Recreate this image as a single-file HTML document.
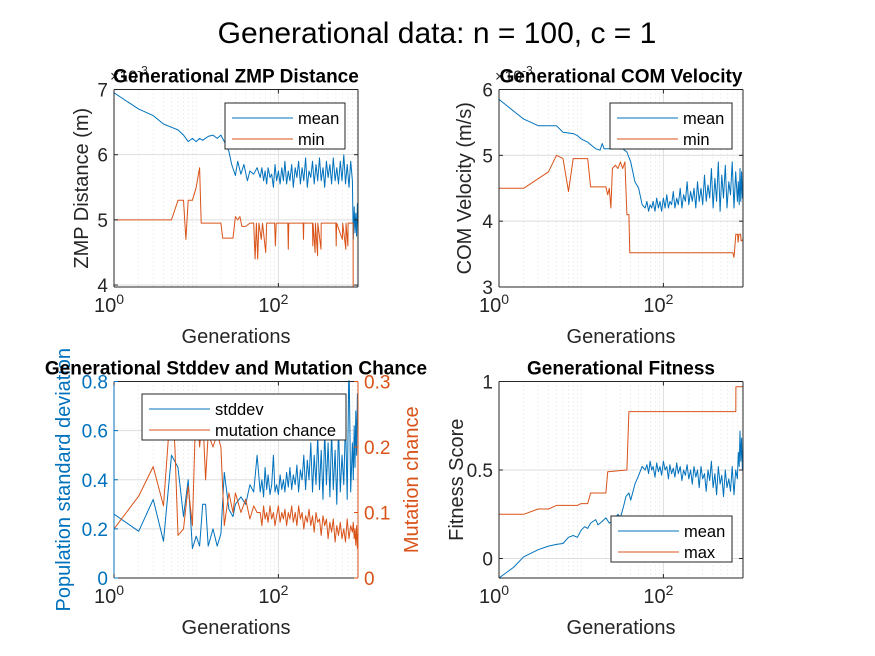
<!DOCTYPE html>
<html><head><meta charset="utf-8">
<style>
html,body{margin:0;padding:0;background:#fff;}
svg{display:block;font-family:"Liberation Sans",Arial,sans-serif;}
</style></head>
<body>
<svg id="fig" width="875" height="656" viewBox="0 0 875 656" xmlns="http://www.w3.org/2000/svg">
<rect width="875" height="656" fill="#fff"/>
<text x="437" y="43" text-anchor="middle" font-size="30" fill="#000">Generational data: n = 100, c = 1</text>
</svg>
<script>
// ---- shared data ----
const XMAX = 930;
const noiseGens = [60,63,66,69,72,75,79,83,87,91,95,100,105,110,115,120,126,132,138,145,152,160,168,176,185,194,204,214,225,236,248,260,273,287,301,316,332,349,366,384,403,423,444,466,489,513,539,566,594,624,655,688,722,758,796,815,835,855,875,895,915,930];
const xTickValues = [1,100];
const xTickLabels = ['0','2'];

// Plot 1: ZMP distance (x1e-3)
const zmpMeanGens = [1,2,3,4,5,6,7,8,9,10,11,12,14,16,18,20,22,25,27,30,32,35,38,42,45,50,55];
const zmpMeanVals = [6.95,6.7,6.6,6.47,6.42,6.38,6.3,6.2,6.25,6.2,6.25,6.22,6.28,6.3,6.25,6.3,6.2,6.05,5.85,5.68,5.9,5.7,5.85,5.6,5.75,5.7,5.8];
const zmpMeanNoise = [5.65,5.8,5.6,5.75,5.55,5.8,5.65,5.7,5.5,5.85,
5.6,5.75,5.55,5.8,5.6,5.9,5.55,5.75,5.6,5.85,
5.5,5.8,5.65,5.9,5.55,5.8,5.6,5.95,5.5,5.75,
5.65,5.9,5.55,5.85,5.6,5.95,5.6,5.8,5.5,5.9,
5.65,5.85,5.55,5.95,5.6,5.8,5.55,5.9,5.6,6.0,
5.55,5.85,5.5,5.9,5.6,4.7,5.2,4.8,5.1,4.75,
5.25,4.9];
const zmpMinGens = [1,5,6,7,7.5,8,9,10,11,11.5,20,21,28,30,32,34,36,40,45,50,52,54,56,58,62,64,70,72,90,92,94,130,132,134,200,202,204,260,262,264,280,282,300,302,330,332,500,505,510,600,605,660,665,700,705,810,812,930];
const zmpMinVals = [5.0,5.0,5.3,5.3,4.7,5.3,5.3,5.5,5.8,4.95,4.95,4.72,4.72,5.05,5.0,5.05,4.9,4.9,4.95,4.95,4.4,4.95,4.4,4.95,4.7,4.95,4.5,4.95,4.95,4.6,4.95,4.95,4.55,4.95,4.95,4.7,4.95,4.95,4.6,4.95,4.5,4.95,4.45,4.95,4.55,4.95,4.95,4.6,4.95,4.7,4.95,4.55,4.95,4.6,4.95,4.95,3.97,3.97];

// Plot 2: COM velocity (x1e-3)
const comMeanGens = [1,2,3,5,6,8,9,10,12,15,17,18,19,22,25,28,32,36,40,45,50,55];
const comMeanVals = [5.85,5.55,5.45,5.45,5.35,5.33,5.3,5.25,5.2,5.1,5.08,5.18,5.1,5.1,5.15,5.2,5.1,5.05,4.9,4.6,4.5,4.25];
const comMeanNoise = [4.2,4.3,4.15,4.25,4.2,4.3,4.15,4.35,4.2,4.3,
4.15,4.35,4.2,4.4,4.2,4.3,4.25,4.45,4.2,4.35,
4.25,4.5,4.2,4.4,4.3,4.6,4.25,4.45,4.3,4.5,
4.2,4.6,4.3,4.5,4.25,4.7,4.3,4.55,4.35,4.8,
4.2,4.65,4.3,4.9,4.15,4.7,4.35,4.85,4.2,4.6,
4.4,4.9,4.2,4.75,4.3,4.6,4.25,4.8,4.3,4.75,
4.35,4.5];
const comMinGens = [1,2,4,5,6,7,8,12,13,20,21,22,23,24,26,28,30,32,34,36,38,39,700,720,730,760,800,810,830,870,880,930];
const comMinVals = [4.5,4.5,4.75,5.0,4.95,4.45,4.95,4.95,4.52,4.52,4.4,4.5,4.2,4.8,4.85,4.8,4.9,4.8,4.9,4.1,4.1,3.52,3.52,3.45,3.52,3.8,3.8,3.68,3.8,3.8,3.7,3.72];

// Plot 3: stddev and mutation chance
const sdGens = [1,2,3,4,5,6,7,8,9,10,11,12,13,14,16,18,20,22,25,28,30,35,40,45,50,55];
const sdVals = [0.26,0.19,0.32,0.15,0.5,0.45,0.25,0.4,0.12,0.17,0.13,0.3,0.3,0.13,0.2,0.13,0.18,0.43,0.28,0.25,0.3,0.33,0.3,0.38,0.35,0.5];
const sdNoise = [0.35,0.4,0.33,0.45,0.36,0.42,0.34,0.38,0.5,0.35,
0.38,0.34,0.42,0.36,0.4,0.35,0.43,0.37,0.45,0.36,
0.42,0.38,0.46,0.35,0.44,0.4,0.5,0.36,0.48,0.4,
0.55,0.35,0.5,0.38,0.58,0.36,0.52,0.32,0.6,0.38,
0.55,0.33,0.6,0.36,0.52,0.3,0.62,0.35,0.5,0.38,
0.65,0.32,0.9,0.35,0.55,0.4,0.62,0.45,0.68,0.5,
0.75,0.7];
const mutGens = [1,2,3,4,5,5.5,6,7,8,9,10,11,12,13,14,16,18,20,22,25,28,30,35,40,45,50,55];
const mutVals = [0.075,0.125,0.17,0.11,0.28,0.2,0.065,0.075,0.14,0.08,0.28,0.2,0.25,0.15,0.22,0.2,0.22,0.2,0.08,0.13,0.1,0.13,0.1,0.12,0.09,0.11,0.1];
const mutNoise = [0.1,0.08,0.11,0.09,0.1,0.085,0.11,0.09,0.1,0.08,
0.095,0.11,0.085,0.1,0.09,0.105,0.08,0.1,0.09,0.11,
0.085,0.1,0.08,0.11,0.09,0.1,0.075,0.095,0.085,0.105,
0.08,0.095,0.07,0.1,0.085,0.09,0.065,0.095,0.08,0.09,
0.06,0.085,0.07,0.09,0.055,0.08,0.065,0.085,0.06,0.075,
0.055,0.09,0.06,0.08,0.07,0.085,0.06,0.075,0.05,0.08,
0.045,0.07];

// Plot 4: fitness
const fitMeanGens = [1,1.5,2,3,4,5,6,7,8,9,10,11,12,13,15,16,18,20,22,25,28,30,33,35,38,40,45,50,55];
const fitMeanVals = [-0.11,-0.05,0.01,0.05,0.07,0.08,0.085,0.12,0.13,0.12,0.16,0.18,0.17,0.2,0.22,0.19,0.21,0.23,0.2,0.22,0.25,0.23,0.3,0.35,0.37,0.33,0.42,0.47,0.52];
const fitMeanNoise = [0.5,0.53,0.48,0.55,0.5,0.52,0.46,0.54,0.49,0.52,
0.47,0.55,0.5,0.52,0.45,0.53,0.48,0.51,0.46,0.54,
0.48,0.52,0.44,0.5,0.47,0.53,0.45,0.5,0.42,0.52,
0.46,0.5,0.4,0.52,0.45,0.48,0.38,0.5,0.44,0.55,
0.4,0.48,0.36,0.52,0.42,0.47,0.35,0.5,0.4,0.45,
0.38,0.52,0.36,0.5,0.45,0.6,0.52,0.72,0.55,0.68,
0.5,0.62];
const fitMaxGens = [1,2,3,4,5,9,10,12,13,20,21,36,38,760,762,930];
const fitMaxVals = [0.25,0.25,0.28,0.28,0.3,0.3,0.31,0.31,0.37,0.37,0.49,0.5,0.83,0.83,0.97,0.97];

// ---- drawing ----
const NS = 'http://www.w3.org/2000/svg';
const fig = document.getElementById('fig');
const BLUE = '#0072BD', ORANGE = '#D95319', AX = '#262626', GRID = '#dedede';
function mk(tag, attrs, parent){
  const e = document.createElementNS(NS, tag);
  for (const k in attrs) e.setAttribute(k, attrs[k]);
  (parent||fig).appendChild(e);
  return e;
}
function txt(str, attrs, parent){ const t = mk('text', attrs, parent); t.textContent = str; return t; }

function makeAxes(o){
  const g = mk('g', {});
  
  
  const L=o.x, T=o.y, W=o.w, H=o.h;
  const xs = v => L + Math.log10(v)/Math.log10(XMAX)*W;
  const ys = v => T + H - (v - o.ymin)/(o.ymax - o.ymin)*H;
  const ys2 = o.y2 ? (v => T + H - (v - o.y2.min)/(o.y2.max - o.y2.min)*H) : null;
  for (let d=1; d<=100; d*=10){
    for (let m=(d===1?2:1); m<=9; m++){
      const v = m*d; if (v>XMAX || v===100) continue;
      const ln = mk('line', {x1:xs(v),x2:xs(v),y1:T,y2:T+H,stroke:'#d6d6d6','stroke-width':0.7,'stroke-dasharray':'1,3'}, g);
      
      
    }
  }
  const gx = mk('line', {x1:xs(100),x2:xs(100),y1:T,y2:T+H,stroke:GRID,'stroke-width':1}, g);
  
  
  o.yticks.forEach(v=>{
    const ln = mk('line', {x1:L,x2:L+W,y1:ys(v),y2:ys(v),stroke:GRID,'stroke-width':1}, g);
    
    
  });
  const cp = mk('clipPath', {id:o.name+'-clip'}, g);
  mk('rect', {x:L, y:T-1, width:W, height:H+3}, cp);
  o.series.forEach(s=>{
    const f = s.right ? ys2 : ys;
    let d=''; s.g.forEach((gv,i)=>{ d += (i?'L':'M') + xs(gv).toFixed(1) + ',' + f(s.v[i]).toFixed(1); });
    const p = mk('path', {d:d, fill:'none', stroke:s.color, 'stroke-width':1, 'stroke-linejoin':'round','clip-path':'url(#'+o.name+'-clip)'}, g);
    
    
  });
  const lc = o.y2 ? BLUE : AX, rc = o.y2 ? ORANGE : AX;
  mk('line', {x1:L,x2:L+W,y1:T+H,y2:T+H,stroke:AX,'stroke-width':1}, g);
  mk('line', {x1:L,x2:L+W,y1:T,y2:T,stroke:AX,'stroke-width':1}, g);
  mk('line', {x1:L,x2:L,y1:T,y2:T+H,stroke:lc,'stroke-width':1}, g);
  mk('line', {x1:L+W,x2:L+W,y1:T,y2:T+H,stroke:rc,'stroke-width':1}, g);
  xTickValues.forEach((v,i)=>{
    mk('line', {x1:xs(v),x2:xs(v),y1:T+H,y2:T+H-4,stroke:AX}, g);
    mk('line', {x1:xs(v),x2:xs(v),y1:T,y2:T+4,stroke:AX}, g);
    const t = txt('10', {x:xs(v)-5, y:T+H+25, 'text-anchor':'middle','font-size':20,fill:AX}, g);
    
    
    const ts = document.createElementNS(NS,'tspan'); ts.setAttribute('dy','-8'); ts.setAttribute('font-size','14'); ts.textContent = xTickLabels[i]; t.appendChild(ts);
  });
  o.yticks.forEach((v,i)=>{
    mk('line', {x1:L,x2:L+4,y1:ys(v),y2:ys(v),stroke:lc}, g);
    if(!o.y2) mk('line', {x1:L+W,x2:L+W-4,y1:ys(v),y2:ys(v),stroke:AX}, g);
    const t = txt(o.ylabels[i], {x:L-6, y:ys(v)+7, 'text-anchor':'end','font-size':19,fill:o.y2?BLUE:AX}, g);
    
    
  });
  if (o.y2){
    o.y2.ticks.forEach((v,i)=>{
      mk('line', {x1:L+W,x2:L+W-4,y1:ys2(v),y2:ys2(v),stroke:ORANGE}, g);
      const t = txt(o.y2.labels[i], {x:L+W+6, y:ys2(v)+7, 'font-size':19,fill:ORANGE}, g);
      
      
    });
    const yl2 = txt(o.y2.label, {x:0,y:0,'text-anchor':'middle','font-size':20,fill:ORANGE,transform:'translate('+(L+W+60)+','+(T+H/2)+') rotate(-90)'}, g);
    
    
  }
  if (o.exp){
    const e = txt('\u00d710', {x:L-4, y:T-8, 'font-size':16, fill:AX}, g);
    
    
    const ts = document.createElementNS(NS,'tspan'); ts.setAttribute('dy','-7'); ts.setAttribute('font-size','12'); ts.textContent = '-3'; e.appendChild(ts);
  }
  const xl = txt('Generations', {x:L+W/2, y:T+H+56, 'text-anchor':'middle','font-size':20,fill:AX}, g);
  
  
  const yl = txt(o.ylabel, {x:0,y:0,'text-anchor':'middle','font-size':20,fill:o.y2?BLUE:AX,transform:'translate('+(L-o.ylOff)+','+(T+H/2)+') rotate(-90)'}, g);
  
  
  const ti = txt(o.title, {x:L+W/2, y:T-7, 'text-anchor':'middle','font-size':19,'font-weight':'bold',fill:'#000'}, g);
  
  
  const lg = mk('g', {}, g);
  
  
  mk('rect', {x:o.leg.x, y:o.leg.y, width:o.leg.w, height:46, fill:'#fff', stroke:AX,'stroke-width':1}, lg);
  o.series.forEach((s,i)=>{
    const yy = o.leg.y + 15 + i*21;
    mk('line', {x1:o.leg.x+7, x2:o.leg.x+o.leg.lw, y1:yy, y2:yy, stroke:s.color,'stroke-width':1}, lg);
    const t = txt(s.label, {x:o.leg.x+o.leg.lw+5, y:yy+6, 'font-size':16.5, fill:'#000'}, lg);
    
    
  });
}

makeAxes({name:'zmp-distance-axes', x:114, y:89.5, w:244, h:197.5, ymin:3.97, ymax:7,
  yticks:[4,5,6,7], ylabels:['4','5','6','7'], ylabel:'ZMP Distance (m)', ylOff:26, exp:true,
  title:'Generational ZMP Distance', leg:{x:225,y:103,w:120,lw:68},
  series:[
    {name:'zmp-mean-line', label:'mean', color:BLUE, g:zmpMeanGens.concat(noiseGens), v:zmpMeanVals.concat(zmpMeanNoise)},
    {name:'zmp-min-line', label:'min', color:ORANGE, g:zmpMinGens, v:zmpMinVals}
  ]});
makeAxes({name:'com-velocity-axes', x:499, y:89.5, w:244, h:197.5, ymin:3, ymax:6,
  yticks:[3,4,5,6], ylabels:['3','4','5','6'], ylabel:'COM Velocity (m/s)', ylOff:28, exp:true,
  title:'Generational COM Velocity', leg:{x:610,y:103,w:122,lw:68},
  series:[
    {name:'com-mean-line', label:'mean', color:BLUE, g:comMeanGens.concat(noiseGens), v:comMeanVals.concat(comMeanNoise)},
    {name:'com-min-line', label:'min', color:ORANGE, g:comMinGens, v:comMinVals}
  ]});
makeAxes({name:'stddev-mutation-axes', x:114, y:381.5, w:244, h:196.5, ymin:0, ymax:0.8,
  yticks:[0,0.2,0.4,0.6,0.8], ylabels:['0','0.2','0.4','0.6','0.8'], ylabel:'Population standard deviation', ylOff:44,
  y2:{min:0,max:0.3,ticks:[0,0.1,0.2,0.3],labels:['0','0.1','0.2','0.3'],label:'Mutation chance'},
  title:'Generational Stddev and Mutation Chance', leg:{x:142,y:394,w:204,lw:68},
  series:[
    {name:'stddev-line', label:'stddev', color:BLUE, g:sdGens.concat(noiseGens), v:sdVals.concat(sdNoise)},
    {name:'mutation-chance-line', label:'mutation chance', color:ORANGE, right:true, g:mutGens.concat(noiseGens), v:mutVals.concat(mutNoise)}
  ]});
makeAxes({name:'fitness-axes', x:499, y:381.5, w:244, h:196.5, ymin:-0.11, ymax:1,
  yticks:[0,0.5,1], ylabels:['0','0.5','1'], ylabel:'Fitness Score', ylOff:36,
  title:'Generational Fitness', leg:{x:611,y:516,w:121,lw:68},
  series:[
    {name:'fitness-mean-line', label:'mean', color:BLUE, g:fitMeanGens.concat(noiseGens), v:fitMeanVals.concat(fitMeanNoise)},
    {name:'fitness-max-line', label:'max', color:ORANGE, g:fitMaxGens, v:fitMaxVals}
  ]});
</script>
</body></html>
